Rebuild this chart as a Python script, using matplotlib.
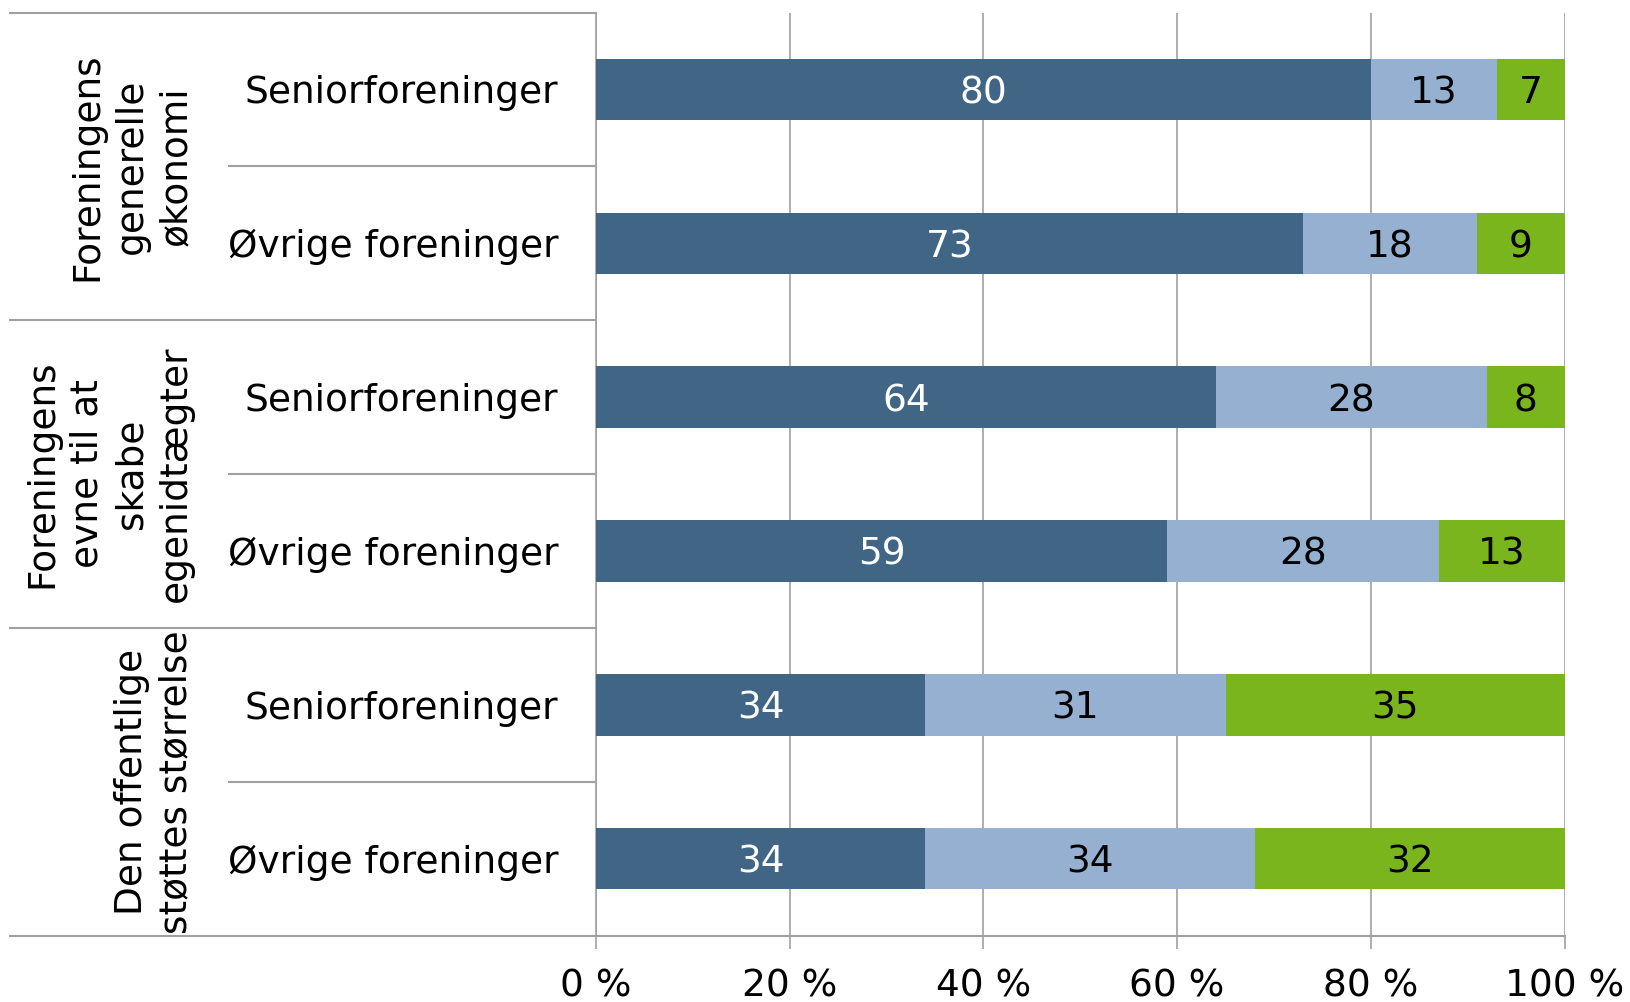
import numpy as np
import matplotlib.pyplot as plt
import matplotlib.transforms as mtransforms

plt.rcParams['font.family'] = ['DejaVu Sans']

rows = ['Seniorforeninger', 'Øvrige foreninger',
        'Seniorforeninger', 'Øvrige foreninger',
        'Seniorforeninger', 'Øvrige foreninger']
groups = ['Foreningens\ngenerelle\nøkonomi',
          'Foreningens\nevne til at\nskabe\negenidtægter',
          'Den offentlige\nstøttes størrelse']
s1 = [80, 73, 64, 59, 34, 34]
s2 = [13, 18, 28, 28, 31, 34]
s3 = [7, 9, 8, 13, 35, 32]
xticks = [0, 20, 40, 60, 80, 100]
xticklabels = ['0 %', '20 %', '40 %', '60 %', '80 %', '100 %']

colors = ['#416584', '#95B0D0', '#7AB51D']
txt_colors = ['white', 'black', 'black']
grid_c = '#A0A0A0'
fs = 27

fig = plt.figure(figsize=(16.3, 10.02), dpi=100)
ax = fig.add_axes([596 / 1630, 1 - 935.6 / 1002, 968.5 / 1630, 923.1 / 1002])

y = np.arange(len(rows))
left = np.zeros(len(rows))
for vals, c, tc in zip([s1, s2, s3], colors, txt_colors):
    vals = np.array(vals, dtype=float)
    ax.barh(y, vals, left=left, height=0.4, color=c, zorder=3)
    for yi, l, v in zip(y, left, vals):
        ax.text(l + v / 2, yi, f'{v:.0f}', ha='center', va='center_baseline',
                color=tc, fontsize=fs, zorder=4)
    left += vals

ax.set_xlim(0, 100)
ax.set_ylim(5.5, -0.5)
ax.set_xticks(xticks)
ax.set_xticklabels(xticklabels, fontsize=fs)
ax.set_yticks(y)
ax.set_yticklabels(rows, fontsize=fs)
ax.tick_params(axis='y', length=0, pad=27)
ax.tick_params(axis='x', length=9, width=1.2, color=grid_c, pad=15)
ax.xaxis.grid(True, color=grid_c, linewidth=1.2, zorder=0)

for side in ['top', 'right']:
    ax.spines[side].set_visible(False)
for side in ['left', 'bottom']:
    ax.spines[side].set_color(grid_c)
    ax.spines[side].set_linewidth(1.2)

# table lines on the left
trans = mtransforms.blended_transform_factory(ax.transAxes, ax.transData)
x_outer = (10 - 596) / 968.5
x_inner = (229 - 596) / 968.5
for yb in [-0.5, 1.5, 3.5, 5.5]:
    ax.plot([x_outer, 0 if yb != 5.5 else 1], [yb, yb], transform=trans,
            color=grid_c, lw=1.5, clip_on=False, zorder=5)
for yb in [0.5, 2.5, 4.5]:
    ax.plot([x_inner, 0], [yb, yb], transform=trans,
            color=grid_c, lw=1.5, clip_on=False, zorder=5)

x_grp = (194 - 596) / 968.5
for i, g in enumerate(groups):
    ax.text(x_grp, 2 * i + 0.5, g, transform=trans, rotation=90,
            ha='right', va='center', multialignment='center',
            linespacing=1.3, fontsize=fs)

fig.savefig('out.png', dpi=100)
